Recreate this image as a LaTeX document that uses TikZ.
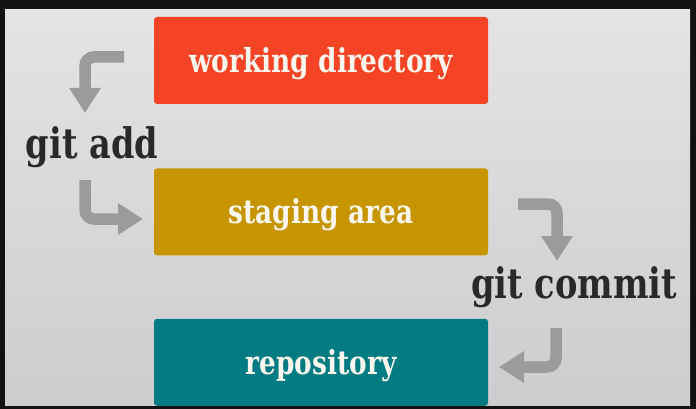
\documentclass[tikz,border=0pt]{standalone}
\usepackage{fontspec}
\newfontfamily\slabfont[FakeStretch=0.8]{DejaVu Serif}
\usepackage{tikz}
\usetikzlibrary{
	arrows.meta,
	positioning
}
\definecolor{workRed}{HTML}{F44325}
\definecolor{stageGold}{HTML}{C79502}
\definecolor{repoTeal}{HTML}{037B82}
\definecolor{arrowGray}{HTML}{9B9B9D}
\definecolor{labelInk}{HTML}{2B2828}
\definecolor{boxInk}{HTML}{FBF6EE}
\definecolor{bgTop}{HTML}{E4E4E6}
\definecolor{bgBottom}{HTML}{CDCDCF}
\tikzset{
	area/.style={rectangle,rounded corners=3pt,minimum width=334pt,minimum height=87pt,inner sep=0pt,
		text=boxInk,font=\slabfont\bfseries\fontsize{33}{33}\selectfont,text height=24pt,text depth=0pt},
	cmd/.style={anchor=base,inner sep=0pt,text=labelInk,font=\slabfont\bfseries\fontsize{42}{42}\selectfont},
	elbow/.style={draw=arrowGray,line width=11.5pt,rounded corners=9pt,-{Triangle[width=30pt,length=25pt]}}
}

\begin{document}
\begin{tikzpicture}[x=1pt,y=-1pt]
	\useasboundingbox (0,0) rectangle (696,409);
	% frame and backdrop
	\fill[black!93] (0,0) rectangle (696,409);
	\shade[top color=bgTop,bottom color=bgBottom] (5,10) rectangle (690,405);
	
	\node[area,fill=workRed] (work) at (321,60.5) {working directory};
	\node[area,fill=stageGold,below=64pt of work] (stage) {staging area};
	\node[area,fill=repoTeal,below=63pt of stage] (repo) {repository};
	
	\node[cmd] (add) at (92,158) {git add};
	\node[cmd] (commit) at (574,298) {git commit};
	
	\coordinate (addIn) at (124,57);
	\coordinate (addOut) at (85,113);
	\coordinate (stageIn) at (85,180);
	\coordinate (stageOut) at (143,219);
	\coordinate (commitIn) at (518,204);
	\coordinate (commitOut) at (557,261);
	\coordinate (repoIn) at (556,328);
	\coordinate (repoOut) at (499,367);
	
	\draw[elbow] (addIn) -| (addOut);
	\draw[elbow] (stageIn) |- (stageOut);
	\draw[elbow] (commitIn) -| (commitOut);
	\draw[elbow] (repoIn) |- (repoOut);
\end{tikzpicture}
\end{document}
